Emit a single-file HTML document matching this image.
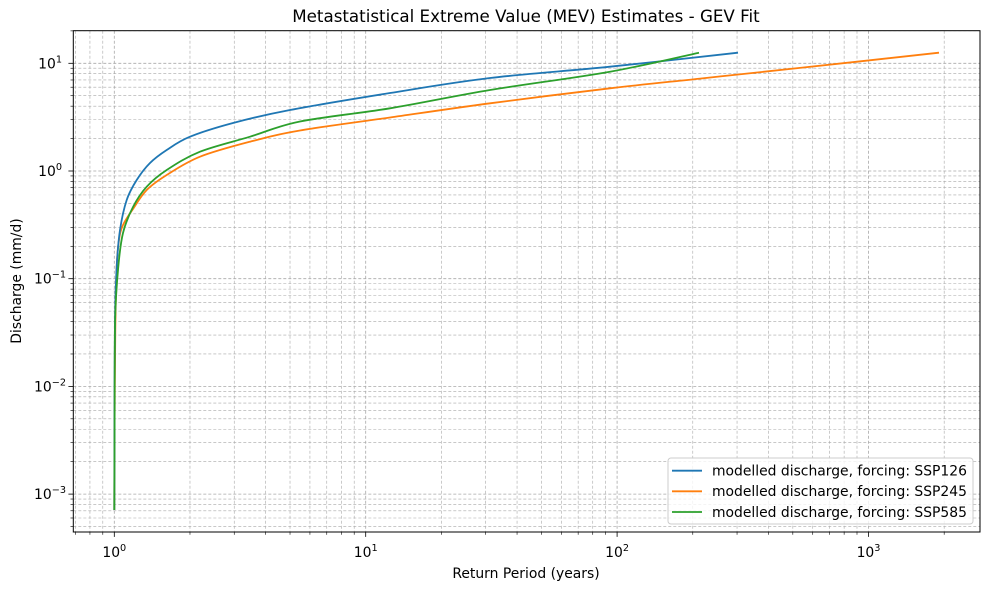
<!DOCTYPE html>
<html><head><meta charset="utf-8"><style>
body{margin:0;background:#fff}
svg{display:block;font-family:"DejaVu Sans","Liberation Sans",sans-serif}
</style></head><body>
<svg id="s" width="989" height="590" xmlns="http://www.w3.org/2000/svg">
<rect width="989" height="590" fill="#fff"/>
<g id="grid"></g>
<g id="curves" fill="none" stroke-width="1.8" stroke-linejoin="round"></g>
<rect x="73.3" y="30.7" width="906.7" height="501.3" fill="none" stroke="#000" stroke-width="1"/>
<g id="ticks"></g>
<text x="526" y="22" font-size="16.7" text-anchor="middle">Metastatistical Extreme Value (MEV) Estimates - GEV Fit</text>
<text x="526" y="578" font-size="13.9" text-anchor="middle">Return Period (years)</text>
<text transform="translate(21,281) rotate(-90)" font-size="13.9" text-anchor="middle">Discharge (mm/d)</text>
<g>
<rect x="668" y="458" width="305" height="66" rx="3" fill="#fff" fill-opacity="0.8" stroke="#ccc"/>
<line x1="672" y1="470.7" x2="702" y2="470.7" stroke="#1f77b4" stroke-width="1.8"/>
<line x1="672" y1="491.3" x2="702" y2="491.3" stroke="#ff7f0e" stroke-width="1.8"/>
<line x1="672" y1="512" x2="702" y2="512" stroke="#2ca02c" stroke-width="1.8"/>
<text x="712" y="475.5" font-size="13.9">modelled discharge, forcing: SSP126</text>
<text x="712" y="496.1" font-size="13.9">modelled discharge, forcing: SSP245</text>
<text x="712" y="516.8" font-size="13.9">modelled discharge, forcing: SSP585</text>
</g>
</svg>
<script>
var NS="http://www.w3.org/2000/svg";
var L=73.3,R=980,T=30.7,B=532;
function X(v){return 114.3+Math.log10(v)*251.4}
function Y(v){return 171-Math.log10(v)*107.7}
var g=document.getElementById("grid"),t=document.getElementById("ticks"),cv=document.getElementById("curves");
function el(p,tag,a){var e=document.createElementNS(NS,tag);for(var k in a)e.setAttribute(k,a[k]);p.appendChild(e);return e}
for(var d=-1;d<=4;d++)for(var m=1;m<10;m++){var v=m*Math.pow(10,d),x=X(v);if(x<L||x>R)continue;
el(g,"line",{x1:x,x2:x,y1:T,y2:B,stroke:"#a8a8a8","stroke-width":m==1?0.8:0.6,"stroke-dasharray":"3,2"});
el(t,"line",{x1:x,x2:x,y1:B,y2:B+(m==1?4.9:2.8),stroke:"#000","stroke-width":m==1?0.8:0.6});
if(m==1){var tx=el(t,"text",{x:x,y:557,"font-size":13.9,"text-anchor":"middle"});tx.innerHTML='10<tspan dy="-6" font-size="9.7">'+d+'</tspan>';}}
for(var d=-4;d<=2;d++)for(var m=1;m<10;m++){var v=m*Math.pow(10,d),y=Y(v);if(y<T||y>B)continue;
el(g,"line",{x1:L,x2:R,y1:y,y2:y,stroke:"#a8a8a8","stroke-width":m==1?0.8:0.6,"stroke-dasharray":"3,2"});
el(t,"line",{x1:L,x2:L-(m==1?4.9:2.8),y1:y,y2:y,stroke:"#000","stroke-width":m==1?0.8:0.6});
if(m==1){var lab=d<0?'\u2212'+(-d):''+d;var tx=el(t,"text",{x:d<0?66:62,y:y+5,"font-size":13.9,"text-anchor":"end"});tx.innerHTML='10<tspan dy="-6" font-size="9.7">'+lab+'</tspan>';}}
function cr(p){var s="M"+p[0][0]+","+p[0][1];for(var i=0;i<p.length-1;i++){var p0=p[i>0?i-1:0],p1=p[i],p2=p[i+1],p3=p[i+2<p.length?i+2:i+1];
s+=" C"+(p1[0]+(p2[0]-p0[0])/6)+","+(p1[1]+(p2[1]-p0[1])/6)+" "+(p2[0]-(p3[0]-p1[0])/6)+","+(p2[1]-(p3[1]-p1[1])/6)+" "+p2[0]+","+p2[1];}return s}
var S=[
["#ff7f0e",[[114.3,510],[114.6,420],[115.3,330],[116.7,266.7],[119,240],[123,225],[133,209],[146.7,190],[166.7,175],[200,156.7],[250,141.7],[300,130.5],[390,117.5],[490,103.3],[610,88.3],[700,78.6],[800,67.9],[939,52.7]]],
["#1f77b4",[[114.3,510],[114.5,420],[115,320],[116.7,266.7],[120,230],[126.7,200],[136.7,180],[150,163],[166.7,150],[190,136.7],[233,123],[290,110],[390,93],[490,78],[610,66.7],[738,52.7]]],
["#2ca02c",[[114.3,510],[114.6,420],[115.1,320],[118.3,266.7],[123,233],[133,207],[146.7,186.7],[166.7,170],[200,151.7],[250,136.7],[300,121.5],[390,108.3],[490,90],[610,71.7],[699,52.7]]]];
S.forEach(function(s){el(cv,"path",{stroke:s[0],d:cr(s[1])})});
</script>
</body></html>
